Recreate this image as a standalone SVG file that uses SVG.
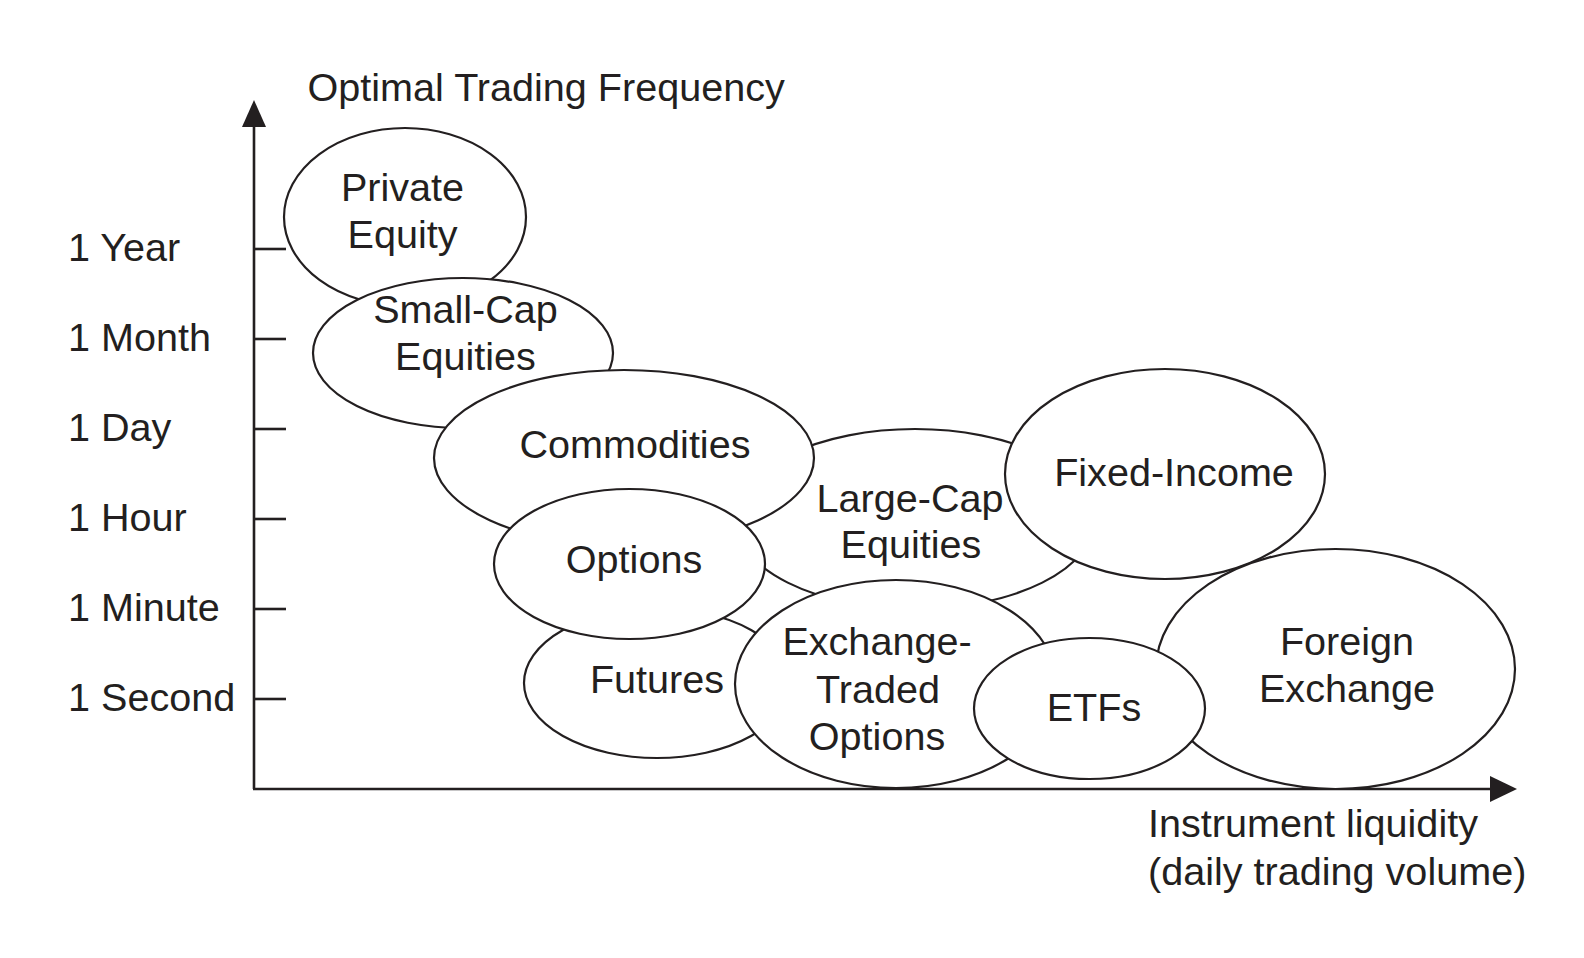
<svg xmlns="http://www.w3.org/2000/svg" width="1584" height="958" viewBox="0 0 1584 958">
<style>
.t{font-family:"Liberation Sans",Arial,Helvetica,sans-serif;font-size:39.6px;fill:#231f20}
.m{text-anchor:middle}
.e{fill:#fff;stroke:#231f20;stroke-width:2.2}
.ax{stroke:#231f20;stroke-width:2.6;fill:none}
.ah{fill:#231f20}
</style>
<rect width="1584" height="958" fill="#fff"/>
<g id="axes">
<line class="ax" x1="254" y1="122" x2="254" y2="789"/>
<line class="ax" x1="253" y1="789" x2="1494" y2="789"/>
<polygon class="ah" points="254,100 242,127 266,127"/>
<polygon class="ah" points="1517,789 1490,776 1490,802"/>
<g class="ax">
<line x1="254" y1="249" x2="286" y2="249"/>
<line x1="254" y1="339" x2="286" y2="339"/>
<line x1="254" y1="429" x2="286" y2="429"/>
<line x1="254" y1="519" x2="286" y2="519"/>
<line x1="254" y1="609" x2="286" y2="609"/>
<line x1="254" y1="699" x2="286" y2="699"/>
</g>
<text class="t" x="307.5" y="101">Optimal Trading Frequency</text>
<text class="t" x="68" y="261">1 Year</text>
<text class="t" x="68" y="351">1 Month</text>
<text class="t" x="68" y="441">1 Day</text>
<text class="t" x="68" y="531">1 Hour</text>
<text class="t" x="68" y="621">1 Minute</text>
<text class="t" x="68" y="711">1 Second</text>
<text class="t" x="1148" y="837">Instrument liquidity</text>
<text class="t" x="1148" y="885">(daily trading volume)</text>
</g>
<g id="connectors"></g>
<g id="private-equity">
<ellipse class="e" cx="405" cy="217" rx="121" ry="89"/>
<text class="t m" x="402.5" y="201">Private</text>
<text class="t m" x="402.5" y="248">Equity</text>
</g>
<g id="small-cap">
<ellipse class="e" cx="463" cy="353" rx="150" ry="75"/>
<text class="t m" x="465.5" y="323">Small-Cap</text>
<text class="t m" x="465.5" y="370">Equities</text>
</g>
<g id="large-cap">
<ellipse class="e" cx="915" cy="519" rx="180" ry="90"/>
<text class="t m" x="910" y="512">Large-Cap</text>
<text class="t m" x="911" y="558">Equities</text>
</g>
<g id="commodities">
<ellipse class="e" cx="624" cy="458" rx="190" ry="88"/>
<text class="t m" x="635" y="458">Commodities</text>
</g>
<g id="futures">
<ellipse class="e" cx="657" cy="683" rx="133" ry="75"/>
<text class="t m" x="657" y="693">Futures</text>
</g>
<g id="options">
<ellipse class="e" cx="629.5" cy="564" rx="135.5" ry="75"/>
<text class="t m" x="634" y="573">Options</text>
</g>
<g id="fixed-income">
<ellipse class="e" cx="1165" cy="474" rx="160" ry="105"/>
<text class="t m" x="1174" y="486">Fixed-Income</text>
</g>
<g id="foreign-exchange">
<ellipse class="e" cx="1335.5" cy="669" rx="179.5" ry="120"/>
<text class="t m" x="1347" y="655">Foreign</text>
<text class="t m" x="1347" y="702">Exchange</text>
</g>
<g id="exchange-traded-options">
<ellipse class="e" cx="896" cy="684" rx="161" ry="104"/>
<text class="t m" x="877" y="655">Exchange-</text>
<text class="t m" x="878" y="703">Traded</text>
<text class="t m" x="877" y="750">Options</text>
</g>
<g id="etfs">
<ellipse class="e" cx="1089.5" cy="708.5" rx="115.5" ry="70.5"/>
<text class="t m" x="1094" y="721">ETFs</text>
</g>
</svg>
